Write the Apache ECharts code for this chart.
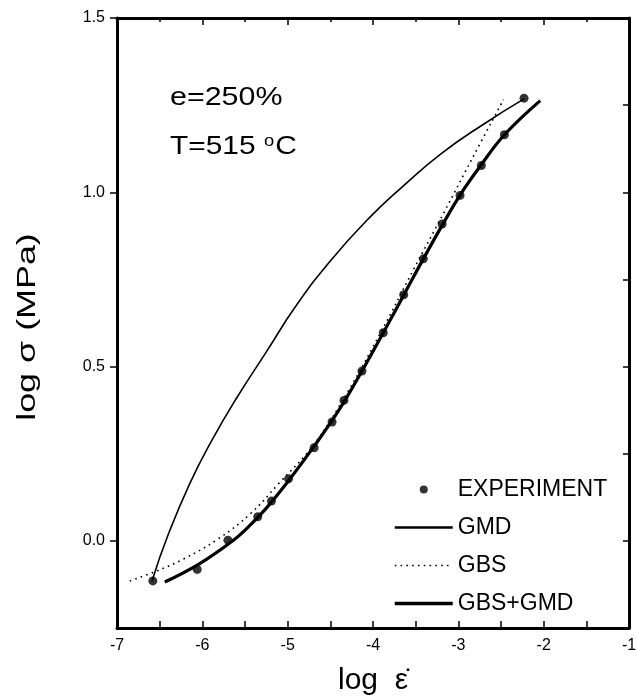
<!DOCTYPE html>
<html>
<head>
<meta charset="utf-8">
<script src="https://cdn.jsdelivr.net/npm/echarts@6/dist/echarts.min.js"></script>
<style>
html, body { margin: 0; padding: 0; background: #fff; }
#main { width: 637px; height: 700px; }
</style>
</head>
<body>
<div id="main"></div>
<script>
// log strain rate / log stress values
var expX = [-6.58, -6.06, -5.70, -5.35, -5.19, -4.99, -4.69, -4.48, -4.34, -4.13, -3.88, -3.64, -3.41, -3.19, -2.98, -2.73, -2.46, -2.23];
var expY = [-0.115, -0.082, 0.002, 0.069, 0.114, 0.178, 0.267, 0.341, 0.403, 0.487, 0.597, 0.706, 0.809, 0.909, 0.991, 1.077, 1.165, 1.270];

var gmdX = [-6.59, -6.40, -6.15, -5.90, -5.60, -5.25, -4.90, -4.50, -4.05, -3.65, -3.20, -2.70, -2.23];
var gmdY = [-0.115, 0.018, 0.163, 0.283, 0.409, 0.542, 0.675, 0.803, 0.925, 1.017, 1.111, 1.196, 1.268];

var gbsX = [-6.85, -6.54, -6.22, -5.83, -5.44, -5.11, -4.70, -4.30, -3.90, -3.53, -3.16, -2.84, -2.47];
var gbsY = [-0.115, -0.087, -0.052, 0.003, 0.077, 0.163, 0.274, 0.426, 0.602, 0.776, 0.946, 1.096, 1.266];

var sumX = [-6.44, -6.03, -5.64, -5.44, -5.25, -5.01, -4.70, -4.40, -4.13, -3.88, -3.64, -3.41, -3.19, -2.98, -2.74, -2.46, -2.04];
var sumY = [-0.118, -0.065, 0.001, 0.045, 0.094, 0.166, 0.268, 0.375, 0.487, 0.597, 0.705, 0.809, 0.905, 0.992, 1.076, 1.165, 1.263];

var yLabels = [0, 0.5, 1.0, 1.5];

function pairs(xs, ys) {
	var out = [];
	for (var i = 0; i < xs.length; i++) {
		out.push([xs[i], ys[i]]);
	}
	return out;
}

var font = 'Liberation Sans, Arial, sans-serif';
var myChart = echarts.init(document.getElementById('main'));

var hideDot = { opacity: 0, color: 'transparent', borderWidth: 0 };

var option = {
	backgroundColor: '#fff',
	animation: false,
	grid: { left: 117, right: 8, top: 18, bottom: 72, outerBoundsMode: 'none' },
	xAxis: [ {
		type: 'value',
		position: 'bottom',
		min: -7, max: -1, interval: 1,
		name: 'log  \u03b5\u0307',
		nameLocation: 'middle',
		nameGap: 38,
		nameTextStyle: { fontSize: 30, color: '#000', fontFamily: font },
		axisLine: { onZero: false, lineStyle: { color: '#000', width: 3 } },
		axisTick: { inside: true, length: 7, lineStyle: { color: '#000', width: 1.5 } },
		minorTick: { show: true, splitNumber: 2, length: 7, lineStyle: { color: '#000', width: 1.5 } },
		axisLabel: { fontSize: 16, color: '#000', fontFamily: font, margin: 10 },
		splitLine: { show: false }
	}, {
		type: 'value',
		position: 'top',
		min: -7, max: -1, interval: 1,
		axisLine: { onZero: false, lineStyle: { color: '#000', width: 3 } },
		axisTick: { inside: true, length: 7, lineStyle: { color: '#000', width: 1.5 } },
		minorTick: { show: true, splitNumber: 2, length: 4, lineStyle: { color: '#000', width: 1.5 } },
		axisLabel: { show: false },
		splitLine: { show: false }
	} ],
	yAxis: [ {
		type: 'value',
		position: 'left',
		min: -0.25, max: 1.5,
		axisLine: { onZero: false, lineStyle: { color: '#000', width: 3 } },
		axisTick: { length: 7, customValues: yLabels, lineStyle: { color: '#000', width: 1.5 } },
		axisLabel: {
			fontSize: 16, color: '#000', fontFamily: font, margin: 12,
			customValues: yLabels,
			formatter: function(v) { return v.toFixed(1); }
		},
		splitLine: { show: false }
	}, {
		type: 'value',
		position: 'right',
		min: -0.25, max: 1.5, interval: 0.25,
		axisLine: { onZero: false, lineStyle: { color: '#000', width: 3 } },
		axisTick: { inside: true, length: 6, lineStyle: { color: '#000', width: 1.5 } },
		axisLabel: { show: false },
		splitLine: { show: false }
	} ],
	legend: {
		orient: 'vertical',
		left: 393,
		top: 478,
		padding: 0,
		itemWidth: 58,
		itemHeight: 8,
		itemGap: 15,
		textStyle: { fontSize: 23, color: '#000', fontFamily: font },
		data: [
			{ name: 'EXPERIMENT', icon: 'circle' },
			{ name: 'GMD', itemStyle: hideDot, lineStyle: { color: '#000', width: 2.5, type: 'solid' } },
			{ name: 'GBS', itemStyle: hideDot, lineStyle: { color: '#000', width: 1.6, type: [1.6, 4.2] } },
			{ name: 'GBS+GMD', itemStyle: hideDot, lineStyle: { color: '#000', width: 3.5, type: 'solid' } }
		]
	},
	graphic: [ {
		type: 'text',
		x: 170, y: 98,
		scaleX: 1.17,
		style: { text: 'e=250%', fontSize: 26, fill: '#000', fontFamily: font, verticalAlign: 'middle' }
	}, {
		type: 'text',
		x: 170, y: 147,
		scaleX: 1.15,
		style: {
			text: 'T=515 {s|o}C',
			fontSize: 26, fill: '#000', fontFamily: font, verticalAlign: 'middle',
			rich: { s: { fontSize: 16, fill: '#000', fontFamily: font, padding: [0, 1, 10, 0] } }
		}
	}, {
		type: 'text',
		x: 28, y: 327,
		rotation: Math.PI / 2,
		scaleX: 1.38,
		style: { text: 'log \u03c3 (MPa)', fontSize: 26, fill: '#000', fontFamily: font, align: 'center', verticalAlign: 'middle' }
	} ],
	series: [ {
		name: 'GMD',
		type: 'line',
		data: pairs(gmdX, gmdY),
		smooth: 0.5,
		showSymbol: false,
		symbol: 'none',
		lineStyle: { color: '#000', width: 1.6 },
		itemStyle: { color: '#000' },
		z: 3
	}, {
		name: 'GBS',
		type: 'line',
		data: pairs(gbsX, gbsY),
		smooth: 0.4,
		showSymbol: false,
		symbol: 'none',
		lineStyle: { color: '#000', width: 1.6, type: [1.6, 4.2] },
		itemStyle: { color: '#000' },
		z: 3
	}, {
		name: 'GBS+GMD',
		type: 'line',
		data: pairs(sumX, sumY),
		smooth: 0.4,
		showSymbol: false,
		symbol: 'none',
		lineStyle: { color: '#000', width: 3.2 },
		itemStyle: { color: '#000' },
		z: 4
	}, {
		name: 'EXPERIMENT',
		type: 'scatter',
		data: pairs(expX, expY),
		symbol: 'circle',
		symbolSize: 9,
		itemStyle: { color: '#000' },
		z: 5
	} ]
};

myChart.setOption(option);
</script>
</body>
</html>
